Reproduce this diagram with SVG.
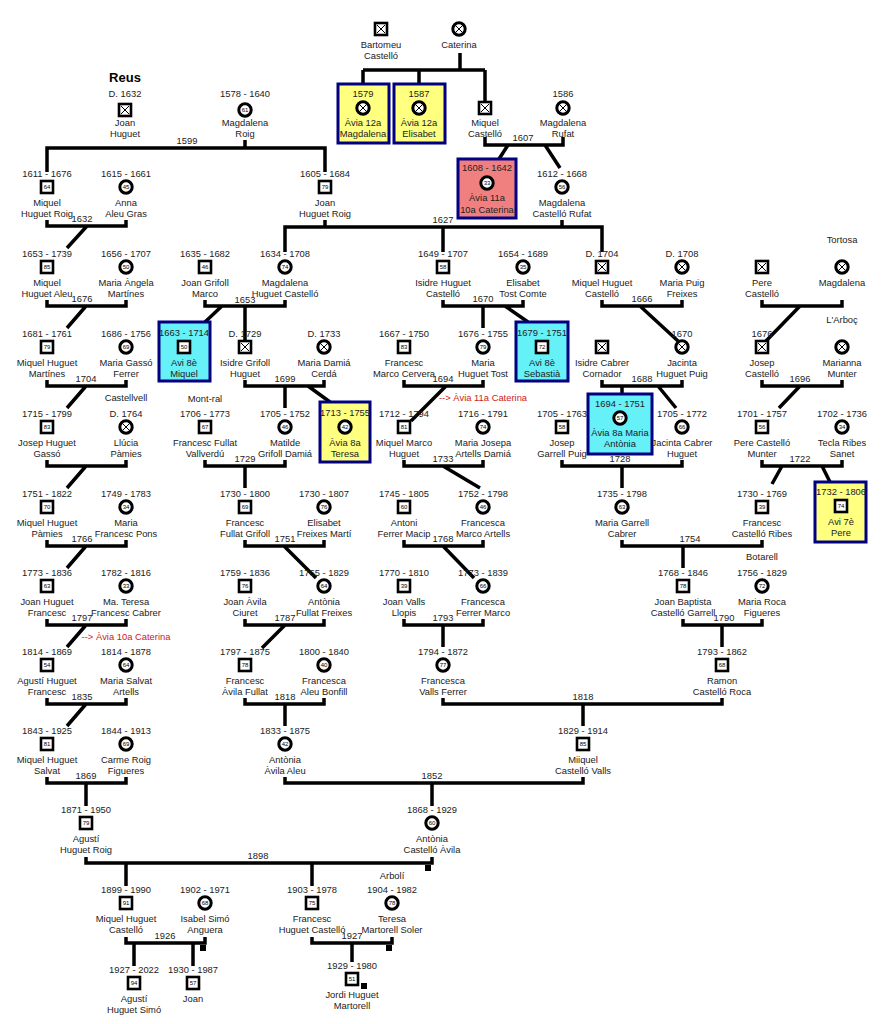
<svg xmlns="http://www.w3.org/2000/svg" xmlns:xlink="http://www.w3.org/1999/xlink" width="888" height="1024" viewBox="0 0 888 1024">
<style>
text{font-family:"Liberation Sans",Arial,sans-serif;font-size:9.4px;fill:#222;text-anchor:middle}
.n{font-size:6px;fill:#000}
.r{fill:#d02020}
.t{font-size:13px;font-weight:bold;fill:#000}
.c path{fill:none;stroke:#000;stroke-width:3.5}
.bx{stroke:#000080;stroke-width:3}
</style>
<defs>
<g id="m"><rect x="-6" y="-6" width="12" height="12" fill="#fff" stroke="#000" stroke-width="2.6"/></g>
<g id="f"><circle r="6.2" fill="#fff" stroke="#000" stroke-width="3"/></g>
<g id="mx"><use href="#m"/><path d="M-4-4L4 4M4-4L-4 4" stroke="#000" stroke-width="1"/></g>
<g id="fx"><use href="#f"/><path d="M-3.5-3.5L3.5 3.5M3.5-3.5L-3.5 3.5" stroke="#000" stroke-width="1"/></g>
</defs>
<rect width="888" height="1024" fill="#fff"/>
<text class="t" x="125" y="82">Reus</text>
<text x="842" y="243">Tortosa</text>
<text x="842" y="323">L'Arboç</text>
<text x="126" y="401">Castellvell</text>
<text x="205" y="402">Mont-ral</text>
<text class="r" x="483" y="401">--&gt; Àvia 11a Caterina</text>
<text class="r" x="126" y="640">--&gt; Àvia 10a Caterina</text>
<text x="762" y="560">Botarell</text>
<text x="392" y="879">Arbolí</text>

<g class="c" id="connectors">
<path d="M363 70H485M460 53V70M363 70V84M419 70V84M485 70V101"/>
<path d="M485 137V145H563V137M508 145L499 159M545 145L560 168"/>
<path d="M47 172V148H325V172M245 140V148"/>
<path d="M47 220V226H126V220M87 226L67 248"/>
<path d="M325 220V227M285 252V227H602V252M562 220V227M443 227V252"/>
<path d="M47 300V306H126V300M86 306L67 328"/>
<path d="M205 300V306H285V300M222 306L205 322M245 306V341"/>
<path d="M443 300V306H523V300M483 306V328M505 306L528 322"/>
<path d="M602 300V306H682V300M640 306L678 341"/>
<path d="M762 300V306H842V300M800 306L766 341"/>
<path d="M47 380V386H126V380M86 386L67 408"/>
<path d="M245 380V386H324V380M285 386V408M308 386L330 402"/>
<path d="M404 380V386H483V380M446 386L411 421"/>
<path d="M602 380V386H682V380M622 386V394M658 386L676 408"/>
<path d="M762 380V386H842V380M800 386L779 408"/>
<path d="M47 460V466H126V460M86 466L67 488"/>
<path d="M205 460V466H285V460M245 466V488"/>
<path d="M404 460V466H483V460M443 466L480 488"/>
<path d="M562 460V466H682V460M622 466V488"/>
<path d="M762 460V466H842V460M782 466L772 484M822 466L830 482"/>
<path d="M47 540V546H126V540M86 546L67 568"/>
<path d="M245 540V546H324V540M284 546L316 578"/>
<path d="M404 540V546H483V540M443 546L474 578"/>
<path d="M622 540V546H762V540M683 546V568"/>
<path d="M47 619V625H126V619M86 625L67 647"/>
<path d="M245 619V625H324V619M285 625L262 648"/>
<path d="M404 619V625H483V619M443 625V647"/>
<path d="M683 619V625H762V619M722 625V647"/>
<path d="M47 698V704H126V698M86 704L67 726"/>
<path d="M245 698V704H324V698M285 704V726"/>
<path d="M443 698V704H722V698M583 704V726"/>
<path d="M47 777V783H126V777M86 783V806"/>
<path d="M285 777V783H583V777M432 783V806"/>
<path d="M86 857V863H432V857M126 863V886M312 863V886"/>
<path d="M126 937V943H205V937M134 943V966M193 943V966"/>
<path d="M312 937V943H392V937M352 943V962"/>
<rect x="425" y="865" width="6" height="6" fill="#000"/>
<rect x="200" y="945" width="6" height="6" fill="#000"/>
<rect x="386" y="945" width="6" height="6" fill="#000"/>
<rect x="361" y="983" width="6" height="6" fill="#000"/>
</g>

<g id="labels">
<text x="523" y="141">1607</text><text x="187" y="144">1599</text><text x="82" y="222">1632</text><text x="443" y="223">1627</text>
<text x="82" y="302">1676</text><text x="245" y="303">1653</text><text x="483" y="302">1670</text><text x="642" y="302">1666</text>
<text x="86" y="382">1704</text><text x="285" y="382">1699</text><text x="443" y="382">1694</text><text x="642" y="382">1688</text><text x="800" y="382">1696</text>
<text x="245" y="462">1729</text><text x="443" y="462">1733</text><text x="620" y="462">1728</text><text x="800" y="462">1722</text>
<text x="82" y="542">1766</text><text x="285" y="542">1751</text><text x="443" y="542">1768</text><text x="690" y="542">1754</text>
<text x="82" y="621">1797</text><text x="285" y="621">1787</text><text x="443" y="621">1793</text><text x="724" y="621">1790</text>
<text x="82" y="700">1835</text><text x="285" y="700">1818</text><text x="583" y="700">1818</text>
<text x="86" y="779">1869</text><text x="432" y="779">1852</text>
<text x="258" y="859">1898</text><text x="165" y="939">1926</text><text x="352" y="939">1927</text>
</g>

<g id="p-bartomeu" transform="translate(381,29)"><use href="#mx"/><text y="19">Bartomeu</text><text y="30">Castelló</text></g>
<g id="p-caterina" transform="translate(459,29)"><use href="#fx"/><text y="19">Caterina</text></g>
<g id="b-magdalena12"><rect class="bx" x="338" y="84" width="51" height="59" fill="#ffff80"/><g transform="translate(363,108)"><text y="-11">1579</text><use href="#fx"/><text y="18">Àvia 12a</text><text y="29">Magdalena</text></g></g>
<g id="b-elisabet12"><rect class="bx" x="394" y="84" width="51" height="59" fill="#ffff80"/><g transform="translate(419,108)"><text y="-11">1587</text><use href="#fx"/><text y="18">Àvia 12a</text><text y="29">Elisabet</text></g></g>
<g id="p-miquelc" transform="translate(485,108)"><use href="#mx"/><text y="18">Miquel</text><text y="29">Castelló</text></g>
<g id="p-magrufat" transform="translate(563,108)"><text y="-11">1586</text><use href="#fx"/><text y="18">Magdalena</text><text y="29">Rufat</text></g>
<g id="b-caterina11"><rect class="bx" x="458" y="159" width="58" height="59" fill="#f08080"/><g transform="translate(487,183)"><text y="-12">1608 - 1642</text><use href="#f"/><text class="n" y="2">33</text><text y="18">Àvia 11a</text><text y="30">10a Caterina</text></g></g>

<g id="p-joanh" transform="translate(125,110)"><text y="-13">D. 1632</text><use href="#mx"/><text y="16">Joan</text><text y="27">Huguet</text></g>
<g id="p-magroig" transform="translate(245,110)"><text y="-13">1578 - 1640</text><use href="#f"/><text class="n" y="2">61</text><text y="16">Magdalena</text><text y="27">Roig</text></g>

<g id="p1" transform="translate(47,187)"><text y="-10">1611 - 1676</text><use href="#m"/><text class="n" y="2">64</text><text y="19">Miquel</text><text y="30">Huguet Roig</text></g>
<g id="p2" transform="translate(126,187)"><text y="-10">1615 - 1661</text><use href="#f"/><text class="n" y="2">45</text><text y="19">Anna</text><text y="30">Aleu Gras</text></g>
<g id="p3" transform="translate(325,187)"><text y="-10">1605 - 1684</text><use href="#m"/><text class="n" y="2">79</text><text y="19">Joan</text><text y="30">Huguet Roig</text></g>
<g id="p4" transform="translate(562,187)"><text y="-10">1612 - 1668</text><use href="#f"/><text class="n" y="2">56</text><text y="19">Magdalena</text><text y="30">Castelló Rufat</text></g>

<g id="p5" transform="translate(47,267)"><text y="-10">1653 - 1739</text><use href="#m"/><text class="n" y="2">85</text><text y="19">Miquel</text><text y="30">Huguet Aleu</text></g>
<g id="p6" transform="translate(126,267)"><text y="-10">1656 - 1707</text><use href="#f"/><text class="n" y="2">50</text><text y="19">Maria Àngela</text><text y="30">Martínes</text></g>
<g id="p7" transform="translate(205,267)"><text y="-10">1635 - 1682</text><use href="#m"/><text class="n" y="2">46</text><text y="19">Joan Grifoll</text><text y="30">Marco</text></g>
<g id="p8" transform="translate(285,267)"><text y="-10">1634 - 1708</text><use href="#f"/><text class="n" y="2">74</text><text y="19">Magdalena</text><text y="30">Huguet Castelló</text></g>
<g id="p9" transform="translate(443,267)"><text y="-10">1649 - 1707</text><use href="#m"/><text class="n" y="2">58</text><text y="19">Isidre Huguet</text><text y="30">Castelló</text></g>
<g id="p10" transform="translate(523,267)"><text y="-10">1654 - 1689</text><use href="#f"/><text class="n" y="2">35</text><text y="19">Elisabet</text><text y="30">Tost Comte</text></g>
<g id="p11" transform="translate(602,267)"><text y="-10">D. 1704</text><use href="#mx"/><text y="19">Miquel Huguet</text><text y="30">Castelló</text></g>
<g id="p12" transform="translate(682,267)"><text y="-10">D. 1708</text><use href="#fx"/><text y="19">Maria Puig</text><text y="30">Freixes</text></g>
<g id="p13" transform="translate(762,267)"><use href="#mx"/><text y="19">Pere</text><text y="30">Castelló</text></g>
<g id="p14" transform="translate(842,267)"><use href="#fx"/><text y="19">Magdalena</text></g>

<g id="p15" transform="translate(47,347)"><text y="-10">1681 - 1761</text><use href="#m"/><text class="n" y="2">79</text><text y="19">Miquel Huguet</text><text y="30">Martínes</text></g>
<g id="p16" transform="translate(126,347)"><text y="-10">1686 - 1756</text><use href="#f"/><text class="n" y="2">69</text><text y="19">Maria Gassó</text><text y="30">Ferrer</text></g>
<g id="b-miquel8"><rect class="bx" x="159" y="322" width="51" height="59" fill="#66f0f8"/><g transform="translate(184,347)"><text y="-11">1663 - 1714</text><use href="#m"/><text class="n" y="2">50</text><text y="19">Avi 8è</text><text y="30">Miquel</text></g></g>
<g id="p17" transform="translate(245,347)"><text y="-10">D. 1729</text><use href="#mx"/><text y="19">Isidre Grifoll</text><text y="30">Huguet</text></g>
<g id="p18" transform="translate(324,347)"><text y="-10">D. 1733</text><use href="#fx"/><text y="19">Maria Damiá</text><text y="30">Cerdá</text></g>
<g id="p19" transform="translate(404,347)"><text y="-10">1667 - 1750</text><use href="#m"/><text class="n" y="2">83</text><text y="19">Francesc</text><text y="30">Marco Cervera</text></g>
<g id="p20" transform="translate(483,347)"><text y="-10">1676 - 1755</text><use href="#f"/><text class="n" y="2">79</text><text y="19">Maria</text><text y="30">Huguet Tost</text></g>
<g id="b-sebastia8"><rect class="bx" x="516" y="322" width="52" height="59" fill="#66f0f8"/><g transform="translate(542,347)"><text y="-11">1679 - 1751</text><use href="#m"/><text class="n" y="2">72</text><text y="19">Avi 8è</text><text y="30">Sebastià</text></g></g>
<g id="p21" transform="translate(602,347)"><use href="#mx"/><text y="19">Isidre Cabrer</text><text y="30">Cornador</text></g>
<g id="p22" transform="translate(682,347)"><text y="-10">1670</text><use href="#fx"/><text y="19">Jacinta</text><text y="30">Huguet Puig</text></g>
<g id="p23" transform="translate(762,347)"><text y="-10">1676</text><use href="#mx"/><text y="19">Josep</text><text y="30">Castelló</text></g>
<g id="p24" transform="translate(842,347)"><use href="#fx"/><text y="19">Marianna</text><text y="30">Munter</text></g>

<g id="p25" transform="translate(47,427)"><text y="-10">1715 - 1799</text><use href="#m"/><text class="n" y="2">83</text><text y="19">Josep Huguet</text><text y="30">Gassó</text></g>
<g id="p26" transform="translate(126,427)"><text y="-10">D. 1764</text><use href="#fx"/><text y="19">Llúcia</text><text y="30">Pàmies</text></g>
<g id="p27" transform="translate(205,427)"><text y="-10">1706 - 1773</text><use href="#m"/><text class="n" y="2">67</text><text y="19">Francesc Fullat</text><text y="30">Vallverdú</text></g>
<g id="p28" transform="translate(285,427)"><text y="-10">1705 - 1752</text><use href="#f"/><text class="n" y="2">46</text><text y="19">Matilde</text><text y="30">Grifoll Damiá</text></g>
<g id="b-teresa8"><rect class="bx" x="320" y="402" width="50" height="60" fill="#ffff80"/><g transform="translate(345,427)"><text y="-11">1713 - 1755</text><use href="#f"/><text class="n" y="2">42</text><text y="19">Àvia 8a</text><text y="30">Teresa</text></g></g>
<g id="p29" transform="translate(404,427)"><text y="-10">1712 - 1794</text><use href="#m"/><text class="n" y="2">81</text><text y="19">Miquel Marco</text><text y="30">Huguet</text></g>
<g id="p30" transform="translate(483,427)"><text y="-10">1716 - 1791</text><use href="#f"/><text class="n" y="2">74</text><text y="19">Maria Josepa</text><text y="30">Artells Damiá</text></g>
<g id="p31" transform="translate(562,427)"><text y="-10">1705 - 1763</text><use href="#m"/><text class="n" y="2">58</text><text y="19">Josep</text><text y="30">Garrell Puig</text></g>
<g id="b-mariaantonia8"><rect class="bx" x="588" y="394" width="64" height="60" fill="#66f0f8"/><g transform="translate(620,418)"><text y="-11">1694 - 1751</text><use href="#f"/><text class="n" y="2">57</text><text y="18">Àvia 8a Maria</text><text y="29">Antònia</text></g></g>
<g id="p32" transform="translate(682,427)"><text y="-10">1705 - 1772</text><use href="#f"/><text class="n" y="2">66</text><text y="19">Jacinta Cabrer</text><text y="30">Huguet</text></g>
<g id="p33" transform="translate(762,427)"><text y="-10">1701 - 1757</text><use href="#m"/><text class="n" y="2">56</text><text y="19">Pere Castelló</text><text y="30">Munter</text></g>
<g id="p34" transform="translate(842,427)"><text y="-10">1702 - 1736</text><use href="#f"/><text class="n" y="2">34</text><text y="19">Tecla Ribes</text><text y="30">Sanet</text></g>

<g id="p35" transform="translate(47,507)"><text y="-10">1751 - 1822</text><use href="#m"/><text class="n" y="2">70</text><text y="19">Miquel Huguet</text><text y="30">Pàmies</text></g>
<g id="p36" transform="translate(126,507)"><text y="-10">1749 - 1783</text><use href="#f"/><text class="n" y="2">34</text><text y="19">Maria</text><text y="30">Francesc Pons</text></g>
<g id="p37" transform="translate(245,507)"><text y="-10">1730 - 1800</text><use href="#m"/><text class="n" y="2">69</text><text y="19">Francesc</text><text y="30">Fullat Grifoll</text></g>
<g id="p38" transform="translate(324,507)"><text y="-10">1730 - 1807</text><use href="#f"/><text class="n" y="2">76</text><text y="19">Elisabet</text><text y="30">Freixes Martí</text></g>
<g id="p39" transform="translate(404,507)"><text y="-10">1745 - 1805</text><use href="#m"/><text class="n" y="2">60</text><text y="19">Antoni</text><text y="30">Ferrer Macip</text></g>
<g id="p40" transform="translate(483,507)"><text y="-10">1752 - 1798</text><use href="#f"/><text class="n" y="2">46</text><text y="19">Francesca</text><text y="30">Marco Artells</text></g>
<g id="p41" transform="translate(622,507)"><text y="-10">1735 - 1798</text><use href="#f"/><text class="n" y="2">63</text><text y="19">Maria Garrell</text><text y="30">Cabrer</text></g>
<g id="p42" transform="translate(762,507)"><text y="-10">1730 - 1769</text><use href="#m"/><text class="n" y="2">39</text><text y="19">Francesc</text><text y="30">Castelló Ribes</text></g>
<g id="b-pere7"><rect class="bx" x="815" y="482" width="51" height="60" fill="#ffff80"/><g transform="translate(841,506)"><text y="-11">1732 - 1806</text><use href="#m"/><text class="n" y="2">74</text><text y="19">Avi 7è</text><text y="30">Pere</text></g></g>

<g id="p43" transform="translate(47,586)"><text y="-10">1773 - 1836</text><use href="#m"/><text class="n" y="2">63</text><text y="19">Joan Huguet</text><text y="30">Francesc</text></g>
<g id="p44" transform="translate(126,586)"><text y="-10">1782 - 1816</text><use href="#f"/><text class="n" y="2">33</text><text y="19">Ma. Teresa</text><text y="30">Francesc Cabrer</text></g>
<g id="p45" transform="translate(245,586)"><text y="-10">1759 - 1836</text><use href="#m"/><text class="n" y="2">76</text><text y="19">Joan Àvila</text><text y="30">Ciuret</text></g>
<g id="p46" transform="translate(324,586)"><text y="-10">1765 - 1829</text><use href="#f"/><text class="n" y="2">64</text><text y="19">Antònia</text><text y="30">Fullat Freixes</text></g>
<g id="p47" transform="translate(404,586)"><text y="-10">1770 - 1810</text><use href="#m"/><text class="n" y="2">39</text><text y="19">Joan Valls</text><text y="30">Llopis</text></g>
<g id="p48" transform="translate(483,586)"><text y="-10">1773 - 1839</text><use href="#f"/><text class="n" y="2">66</text><text y="19">Francesca</text><text y="30">Ferrer Marco</text></g>
<g id="p49" transform="translate(683,586)"><text y="-10">1768 - 1846</text><use href="#m"/><text class="n" y="2">78</text><text y="19">Joan Baptista</text><text y="30">Castelló Garrell</text></g>
<g id="p50" transform="translate(762,586)"><text y="-10">1756 - 1829</text><use href="#f"/><text class="n" y="2">72</text><text y="19">Maria Roca</text><text y="30">Figueres</text></g>

<g id="p51" transform="translate(47,665)"><text y="-10">1814 - 1869</text><use href="#m"/><text class="n" y="2">54</text><text y="19">Agustí Huguet</text><text y="30">Francesc</text></g>
<g id="p52" transform="translate(126,665)"><text y="-10">1814 - 1878</text><use href="#f"/><text class="n" y="2">64</text><text y="19">Maria Salvat</text><text y="30">Artells</text></g>
<g id="p53" transform="translate(245,665)"><text y="-10">1797 - 1875</text><use href="#m"/><text class="n" y="2">78</text><text y="19">Francesc</text><text y="30">Àvila Fullat</text></g>
<g id="p54" transform="translate(324,665)"><text y="-10">1800 - 1840</text><use href="#f"/><text class="n" y="2">40</text><text y="19">Francesca</text><text y="30">Aleu Bonfill</text></g>
<g id="p55" transform="translate(443,665)"><text y="-10">1794 - 1872</text><use href="#f"/><text class="n" y="2">77</text><text y="19">Francesca</text><text y="30">Valls Ferrer</text></g>
<g id="p56" transform="translate(722,665)"><text y="-10">1793 - 1862</text><use href="#m"/><text class="n" y="2">68</text><text y="19">Ramon</text><text y="30">Castelló Roca</text></g>

<g id="p57" transform="translate(47,744)"><text y="-10">1843 - 1925</text><use href="#m"/><text class="n" y="2">81</text><text y="19">Miquel Huguet</text><text y="30">Salvat</text></g>
<g id="p58" transform="translate(126,744)"><text y="-10">1844 - 1913</text><use href="#f"/><text class="n" y="2">69</text><text y="19">Carme Roig</text><text y="30">Figueres</text></g>
<g id="p59" transform="translate(285,744)"><text y="-10">1833 - 1875</text><use href="#f"/><text class="n" y="2">42</text><text y="19">Antònia</text><text y="30">Àvila Aleu</text></g>
<g id="p60" transform="translate(583,744)"><text y="-10">1829 - 1914</text><use href="#m"/><text class="n" y="2">85</text><text y="19">Miiquel</text><text y="30">Castelló Valls</text></g>

<g id="p61" transform="translate(86,823)"><text y="-10">1871 - 1950</text><use href="#m"/><text class="n" y="2">79</text><text y="19">Agustí</text><text y="30">Huguet Roig</text></g>
<g id="p62" transform="translate(432,823)"><text y="-10">1868 - 1929</text><use href="#f"/><text class="n" y="2">60</text><text y="19">Antònia</text><text y="30">Castelló Àvila</text></g>

<g id="p63" transform="translate(126,903)"><text y="-10">1899 - 1990</text><use href="#m"/><text class="n" y="2">91</text><text y="19">Miquel Huguet</text><text y="30">Castelló</text></g>
<g id="p64" transform="translate(205,903)"><text y="-10">1902 - 1971</text><use href="#f"/><text class="n" y="2">68</text><text y="19">Isabel Simó</text><text y="30">Anguera</text></g>
<g id="p65" transform="translate(312,903)"><text y="-10">1903 - 1978</text><use href="#m"/><text class="n" y="2">75</text><text y="19">Francesc</text><text y="30">Huguet Castelló</text></g>
<g id="p66" transform="translate(392,903)"><text y="-10">1904 - 1982</text><use href="#f"/><text class="n" y="2">78</text><text y="19">Teresa</text><text y="30">Martorell Soler</text></g>

<g id="p67" transform="translate(134,983)"><text y="-10">1927 - 2022</text><use href="#m"/><text class="n" y="2">94</text><text y="19">Agustí</text><text y="30">Huguet Simó</text></g>
<g id="p68" transform="translate(193,983)"><text y="-10">1930 - 1987</text><use href="#m"/><text class="n" y="2">57</text><text y="19">Joan</text></g>
<g id="p69" transform="translate(352,979)"><text y="-10">1929 - 1980</text><use href="#m"/><text class="n" y="2">51</text><text y="19">Jordi Huguet</text><text y="30">Martorell</text></g>
</svg>
